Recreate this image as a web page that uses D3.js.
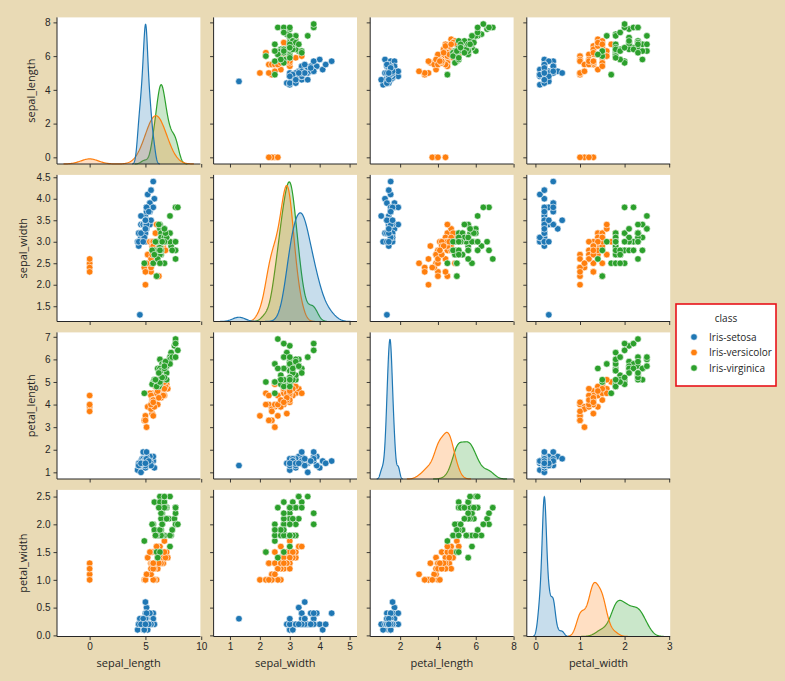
<!DOCTYPE html>
<html><head><meta charset="utf-8">
<script src="https://cdn.jsdelivr.net/npm/d3@7"></script>
<style>
body{margin:0;background:#e9dab5;}
svg{display:block;font-family:"Open Sans","Noto Sans",sans-serif;}
</style>
</head><body><svg id="c" width="785" height="681"></svg>
<script>
const variables = ["sepal_length","sepal_width","petal_length","petal_width"];
const classes = ["Iris-setosa","Iris-versicolor","Iris-virginica"];
const colors = ["#1f77b4","#ff7f0e","#2ca02c"];
const classCounts = [50,50,50];

const sepalLength = [
5.1,4.9,4.7,4.6,5.0,5.4,4.6,5.0,4.4,4.9,5.4,4.8,4.8,4.3,5.8,5.7,5.4,5.1,5.7,5.1,5.4,5.1,4.6,5.1,4.8,5.0,5.0,5.2,5.2,4.7,4.8,5.4,5.2,5.5,4.9,5.0,5.5,4.9,4.4,5.1,5.0,4.5,4.4,5.0,5.1,4.8,5.1,4.6,5.3,5.0,
7.0,6.4,6.9,5.5,6.5,5.7,6.3,4.9,6.6,5.2,5.0,5.9,6.0,6.1,5.6,6.7,5.6,5.8,6.2,0.0,5.9,6.1,6.3,6.1,6.4,6.6,6.8,6.7,6.0,5.7,5.5,0.0,5.8,6.0,5.4,6.0,6.7,0.0,5.6,5.5,5.5,6.1,0.0,5.0,5.6,5.7,5.7,6.2,5.1,5.7,
6.3,5.8,7.1,6.3,6.5,7.6,4.9,7.3,6.7,7.2,6.5,6.4,6.8,5.7,5.8,6.4,6.5,7.7,7.7,6.0,6.9,5.6,7.7,6.3,6.7,7.2,6.2,6.1,6.4,7.2,7.4,7.9,6.4,6.3,6.1,7.7,6.3,6.4,6.0,6.9,6.7,6.9,5.8,6.8,6.7,6.7,6.3,6.5,6.2,5.9];
const sepalWidth = [
3.5,3.0,3.2,3.1,3.6,3.9,3.4,3.4,2.9,3.1,3.7,3.4,3.0,3.0,4.0,4.4,3.9,3.5,3.8,3.8,3.4,3.7,3.6,3.3,3.4,3.0,3.4,3.5,3.4,3.2,3.1,3.4,4.1,4.2,3.1,3.2,3.5,3.1,3.0,3.4,3.5,1.3,3.2,3.5,3.8,3.0,3.8,3.2,3.7,3.3,
3.2,3.2,3.1,2.3,2.8,2.8,3.3,2.4,2.9,2.7,2.0,3.0,2.2,2.9,2.9,3.1,3.0,2.7,2.2,2.5,3.2,2.8,2.5,2.8,2.9,3.0,2.8,3.0,2.9,2.6,2.4,2.4,2.7,2.7,3.0,3.4,3.1,2.3,3.0,2.5,2.6,3.0,2.6,2.3,2.7,3.0,2.9,2.9,2.5,2.8,
3.3,2.7,3.0,2.9,3.0,3.0,2.5,2.9,2.5,3.6,3.2,2.7,3.0,2.5,2.8,3.2,3.0,3.8,2.6,2.2,3.2,2.8,2.8,2.7,3.3,3.2,2.8,3.0,2.8,3.0,2.8,3.8,2.8,2.8,2.6,3.0,3.4,3.1,3.0,3.1,3.1,3.1,2.7,3.2,3.3,3.0,2.5,3.0,3.4,3.0];
const petalLength = [
1.4,1.4,1.3,1.5,1.4,1.7,1.4,1.5,1.4,1.5,1.5,1.6,1.4,1.1,1.2,1.5,1.3,1.4,1.7,1.5,1.7,1.5,1.0,1.7,1.9,1.6,1.6,1.5,1.4,1.6,1.6,1.5,1.5,1.4,1.5,1.2,1.3,1.5,1.3,1.5,1.3,1.3,1.3,1.6,1.9,1.4,1.6,1.4,1.5,1.4,
4.7,4.5,4.9,4.0,4.6,4.5,4.7,3.3,4.6,3.9,3.5,4.2,4.0,4.7,3.6,4.4,4.5,4.1,4.5,3.9,4.8,4.0,4.9,4.7,4.3,4.4,4.8,5.0,4.5,3.5,3.8,3.7,3.9,5.1,4.5,4.5,4.7,4.4,4.1,4.0,4.4,4.6,4.0,3.3,4.2,4.2,4.2,4.3,3.0,4.1,
6.0,5.1,5.9,5.6,5.8,6.6,4.5,6.3,5.8,6.1,5.1,5.3,5.5,5.0,5.1,5.3,5.5,6.7,6.9,5.0,5.7,4.9,6.7,4.9,5.7,6.0,4.8,4.9,5.6,5.8,6.1,6.4,5.6,5.1,5.6,6.1,5.6,5.5,4.8,5.4,5.6,5.1,5.1,5.9,5.7,5.2,5.0,5.2,5.4,5.1];
const petalWidth = [
0.2,0.2,0.2,0.2,0.2,0.4,0.3,0.2,0.2,0.1,0.2,0.2,0.1,0.1,0.2,0.4,0.4,0.3,0.3,0.3,0.2,0.4,0.2,0.5,0.2,0.2,0.4,0.2,0.2,0.2,0.2,0.4,0.1,0.2,0.1,0.2,0.2,0.1,0.2,0.2,0.3,0.3,0.2,0.6,0.4,0.3,0.2,0.2,0.2,0.2,
1.4,1.5,1.5,1.3,1.5,1.3,1.6,1.0,1.3,1.4,1.0,1.5,1.0,1.4,1.3,1.4,1.5,1.0,1.5,1.1,1.8,1.3,1.5,1.2,1.3,1.4,1.4,1.7,1.5,1.0,1.1,1.0,1.2,1.6,1.5,1.6,1.5,1.3,1.3,1.3,1.2,1.4,1.2,1.0,1.3,1.2,1.3,1.3,1.1,1.3,
2.5,1.9,2.1,1.8,2.2,2.1,1.7,1.8,1.8,2.5,2.0,1.9,2.1,2.0,2.4,2.3,1.8,2.2,2.3,1.5,2.3,2.0,2.0,1.8,2.1,1.8,1.8,1.8,2.1,1.6,1.9,2.0,2.2,1.5,1.4,2.3,2.4,1.8,1.8,2.1,2.4,2.3,1.9,2.3,2.5,2.3,1.9,2.0,2.3,1.8];

const xTicks = [[0,5,10],[1,2,3,4,5],[2,4,6,8],[0,1,2,3]];
const yTicks = [[0,2,4,6,8],[1.5,2.0,2.5,3.0,3.5,4.0,4.5],[1,2,3,4,5,6,7],[0.0,0.5,1.0,1.5,2.0,2.5]];
const yTickFmt = [d3.format("d"), d3.format(".1f"), d3.format("d"), d3.format(".1f")];

// build rows
const columns = [sepalLength, sepalWidth, petalLength, petalWidth];
const cls = [];
classCounts.forEach((n,k)=>{ for(let i=0;i<n;i++) cls.push(k); });
const rows = sepalLength.map((_,i)=>({cls:cls[i], v:columns.map(c=>c[i])}));

// KDE (gaussian, scott bandwidth, cut=3, gridsize=200, common_norm)
function kde(vals, weight){
  const n = vals.length, sd = d3.deviation(vals);
  const bw = sd * Math.pow(n, -1/5);
  const lo = d3.min(vals) - 3*bw, hi = d3.max(vals) + 3*bw;
  const pts = [];
  for(let g=0; g<200; g++){
    const x = lo + (hi-lo)*g/199;
    let s = 0;
    for(const v of vals){ const z=(x-v)/bw; s += Math.exp(-0.5*z*z); }
    pts.push([x, weight * s/(n*bw*Math.sqrt(2*Math.PI))]);
  }
  return pts;
}
const N = rows.length;
const kdes = variables.map((_,vi)=> classes.map((_,k)=>{
  const vals = rows.filter(r=>r.cls===k).map(r=>r.v[vi]);
  return kde(vals, vals.length/N);
}));

function pad(ext){ const r=ext[1]-ext[0]; return [ext[0]-0.05*r, ext[1]+0.05*r]; }
const xDomains = variables.map((_,vi)=>{
  let lo = d3.min(rows, r=>r.v[vi]), hi = d3.max(rows, r=>r.v[vi]);
  kdes[vi].forEach(p=>{ lo=Math.min(lo,p[0][0]); hi=Math.max(hi,p[p.length-1][0]); });
  return pad([lo,hi]);
});
const yDomains = variables.map((_,vi)=> pad(d3.extent(rows, r=>r.v[vi])));

// layout
const left0 = 57, colStep = 156.6, pw = 143.4;
const top0 = 17.4, rowStep = 157.5, ph = 146.6;
const ink = "#262626";

const svg = d3.select("#c");
const xs = xDomains.map(d=> d3.scaleLinear().domain(d).range([0,pw]));
const ys = yDomains.map(d=> d3.scaleLinear().domain(d).range([ph,0]));

for(let i=0;i<4;i++){
  for(let j=0;j<4;j++){
    const g = svg.append("g").attr("transform",`translate(${left0+j*colStep},${top0+i*rowStep})`);
    g.append("rect").attr("width",pw).attr("height",ph).attr("fill","#fff");
    const x = xs[j], y = ys[i];
    if(i===j){
      const maxD = d3.max(kdes[i].flat(), p=>p[1]);
      const yk = d3.scaleLinear().domain([0, maxD*1.05]).range([ph,0]);
      const area = d3.area().x(p=>x(p[0])).y0(ph).y1(p=>yk(p[1]));
      const line = d3.line().x(p=>x(p[0])).y(p=>yk(p[1]));
      for(let k=2;k>=0;k--){
        g.append("path").attr("d",area(kdes[i][k])).attr("fill",colors[k]).attr("fill-opacity",0.25);
        g.append("path").attr("d",line(kdes[i][k])).attr("fill","none").attr("stroke",colors[k]).attr("stroke-width",1.2);
      }
    } else {
      g.selectAll("circle.pt").data(rows).enter().append("circle")
        .attr("cx",r=>x(r.v[j])).attr("cy",r=>y(r.v[i])).attr("r",3.3)
        .attr("fill",r=>colors[r.cls]).attr("stroke","#fff").attr("stroke-width",0.6);
    }
    // axes
    const ax = g.append("g").attr("transform",`translate(0,${ph})`)
      .call(d3.axisBottom(x).tickValues(xTicks[j]).tickSize(3.5).tickPadding(3)
        .tickFormat(i===3 ? d3.format("d") : ""));
    const ay = g.append("g")
      .call(d3.axisLeft(y).tickValues(yTicks[i]).tickSize(3.5).tickPadding(3)
        .tickFormat(j===0 ? yTickFmt[i] : ""));
    [ax,ay].forEach(a=>{
      a.select(".domain").attr("stroke",ink).attr("stroke-width",1).attr("d", a===ax ? `M0,0H${pw}` : `M0,0V${ph}`);
      a.selectAll(".tick line").attr("stroke",ink).attr("stroke-width",0.9);
      a.selectAll(".tick text").attr("fill",ink).style("font-size","10px");
    });
  }
}
// axis labels
variables.forEach((v,j)=>{
  svg.append("text").attr("x",left0+j*colStep+pw/2).attr("y",top0+3*rowStep+ph+30)
    .attr("text-anchor","middle").attr("fill",ink).style("font-size","11px").text(v);
});
const yLabelOffset = [22, 30, 22, 30];
variables.forEach((v,i)=>{
  const cy = top0+i*rowStep+ph/2;
  svg.append("text").attr("transform",`translate(${left0-yLabelOffset[i]},${cy}) rotate(-90)`)
    .attr("text-anchor","middle").attr("fill",ink).style("font-size","11px").text(v);
});
// legend
const lg = svg.append("g").attr("transform","translate(676,304)");
lg.append("rect").attr("width",100).attr("height",82).attr("fill","#fff").attr("stroke","#e8121a").attr("stroke-width",1.6);
lg.append("text").attr("x",50).attr("y",18).attr("text-anchor","middle").attr("fill",ink).style("font-size","10px").text("class");
classes.forEach((c,k)=>{
  const yy = 33 + k*15.5;
  lg.append("circle").attr("cx",18).attr("cy",yy).attr("r",3.3).attr("fill",colors[k]).attr("stroke","#fff").attr("stroke-width",0.6);
  lg.append("text").attr("x",33).attr("y",yy+3.5).attr("fill",ink).style("font-size","10px").text(c);
});
</script>
</body></html>
